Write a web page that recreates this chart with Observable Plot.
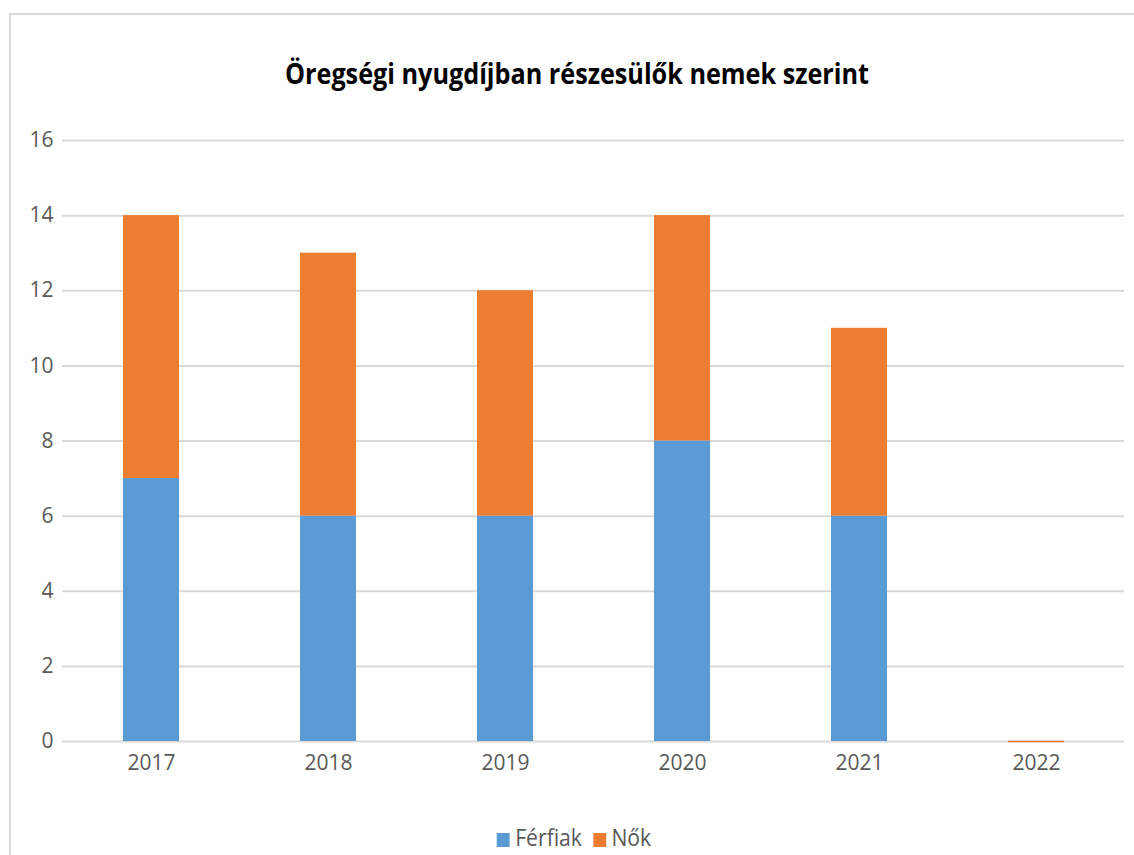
<!DOCTYPE html>
<html>
<head>
<meta charset="utf-8">
<script src="https://cdn.jsdelivr.net/npm/d3@7"></script>
<script src="https://cdn.jsdelivr.net/npm/@observablehq/plot@0.6"></script>
<style>
  body { margin: 0; background: #fff; width: 1134px; height: 855px; overflow: hidden; position: relative; font-family: "Open Sans", sans-serif; }
  #frame { position: absolute; left: 9px; top: 13px; width: 1140px; height: 860px; border: 2px solid #d9d9d9; box-sizing: border-box; }
  #title { position: absolute; left: 0; width: 1154px; top: 54px; text-align: center; font-family: "Open Sans", sans-serif; font-weight: bold; font-size: 28px; color: #000; transform: scaleX(0.9); }
  #chart { position: absolute; left: 0; top: 0; }
  #legend { position: absolute; top: 821px; left: 0; width: 1148px; text-align: center; font-size: 23px; color: #595959; transform: scaleX(0.92); }
  .sw { display: inline-block; width: 14px; height: 14px; margin-right: 6px; vertical-align: -1px; }
  .item { margin: 0 6px; }
</style>
</head>
<body>
<div id="frame"></div>
<div id="title">Öregségi nyugdíjban részesülők nemek szerint</div>
<div id="chart"></div>
<div id="legend"></div>
<script>
const years = ["2017", "2018", "2019", "2020", "2021", "2022"];
const ferfiak = [7, 6, 6, 8, 6, 0];
const nok = [7, 7, 6, 6, 5, 0];
const seriesNames = ["Férfiak", "Nők"];
const colors = ["#5b9bd5", "#ed7d31"];
const yTicks = [0, 2, 4, 6, 8, 10, 12, 14, 16];

const data = [];
years.forEach((y, i) => {
  data.push({year: y, series: seriesNames[0], value: ferfiak[i]});
  data.push({year: y, series: seriesNames[1], value: nok[i]});
});
const zeroYears = years.filter((y, i) => ferfiak[i] + nok[i] === 0).map(y => ({year: y}));

const chart = Plot.plot({
  width: 1134,
  height: 800,
  marginTop: 140,
  marginBottom: 59,
  marginLeft: 62,
  marginRight: 10,
  style: { fontFamily: "'Open Sans', sans-serif", fontSize: "21px", color: "#595959", background: "transparent" },
  x: { domain: years, paddingInner: 0.684, paddingOuter: 0.342, label: null, tickSize: 0, tickPadding: 12 },
  y: { domain: [0, 16], ticks: yTicks, label: null, tickSize: 0, tickPadding: 10 },
  color: { domain: seriesNames, range: colors },
  marks: [
    Plot.gridY(yTicks, { stroke: "#d9d9d9", strokeOpacity: 1, strokeWidth: 2 }),
    Plot.barY(data, Plot.stackY({ x: "year", y: "value", fill: "series", order: seriesNames })),
    Plot.tickY(zeroYears, { x: "year", y: () => 0, stroke: colors[1], strokeWidth: 1.5 }),
    Plot.axisY({ ticks: yTicks, tickSize: 0, tickPadding: 9, fontSize: 21, fill: "#595959" }),
    Plot.axisX({ tickSize: 0, tickPadding: 14, fontSize: 21, fill: "#595959" })
  ]
});
document.getElementById("chart").appendChild(chart);

const legend = document.getElementById("legend");
seriesNames.forEach((s, i) => {
  const span = document.createElement("span");
  span.className = "item";
  span.innerHTML = `<span class="sw" style="background:${colors[i]}"></span>${s}`;
  legend.appendChild(span);
});
</script>
</body>
</html>
